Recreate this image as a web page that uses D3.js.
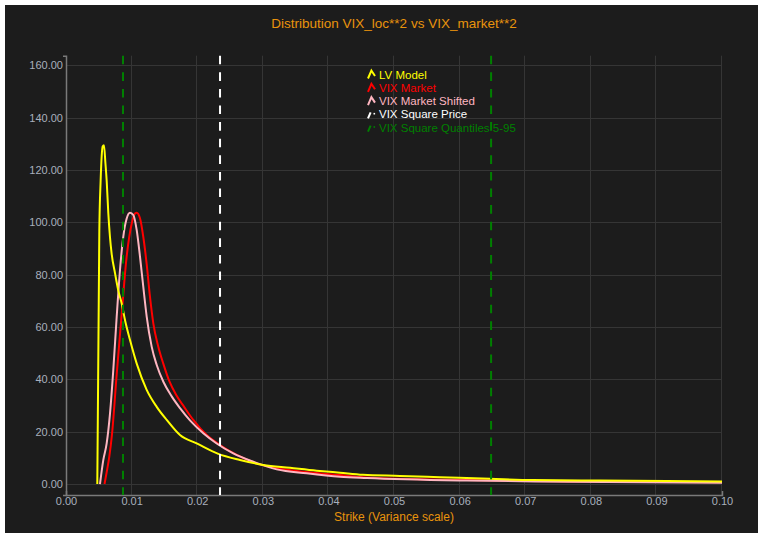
<!DOCTYPE html>
<html>
<head>
<meta charset="utf-8">
<script src="https://cdn.jsdelivr.net/npm/d3@7"></script>
<style>
  html, body { margin: 0; padding: 0; background: #ffffff; }
  svg { display: block; }
</style>
</head>
<body>
<div id="chart"></div>
<script>
// Density of the squared VIX under the local-vol model vs. the market-implied one
const lvModel = [
  [0.00477, 0], [0.00508, 97], [0.00528, 116], [0.00559, 129], [0.00579, 129.5],
  [0.00601, 122.6], [0.0062, 116], [0.00645, 103.5], [0.0067, 94.5], [0.00696, 88],
  [0.00747, 80.6], [0.00797, 74], [0.00849, 69], [0.00899, 62.7], [0.00976, 55],
  [0.01078, 46], [0.0123, 36], [0.01383, 29.5], [0.01535, 24.5], [0.01738, 18.7],
  [0.01992, 15.5], [0.02322, 11.5], [0.02652, 9.2], [0.03008, 7.3], [0.03415, 6.2],
  [0.03822, 5.1], [0.04177, 4.3], [0.04527, 3.5], [0.05091, 3.1], [0.05701, 2.6],
  [0.06463, 2.0], [0.07119, 1.5], [0.0814, 1.3], [0.09162, 1.15], [0.1, 1.0]
];
const vixMarket = [
  [0.00587, 0], [0.0062, 4.5], [0.0066, 10.5], [0.00701, 19], [0.00773, 42],
  [0.00849, 65], [0.00925, 87], [0.01002, 99.6], [0.01052, 103.4], [0.01078, 103.7],
  [0.01128, 101.6], [0.01178, 94.5], [0.0123, 84], [0.0128, 71.6], [0.01331, 61.4],
  [0.01407, 52.5], [0.01483, 46], [0.0158, 39], [0.0168, 34], [0.01800, 29.5],
  [0.0194, 24.5], [0.02145, 18.7], [0.02348, 14.9], [0.02602, 11.1], [0.02907, 7.9],
  [0.03212, 6.0], [0.03613, 4.7], [0.04177, 3.4], [0.04584, 2.5], [0.06108, 1.5],
  [0.07633, 1.0], [0.1, 0.65]
];
const vixMarketShifted = [
  [0.00518, 0], [0.00569, 9.2], [0.0062, 15.5], [0.00671, 27], [0.00721, 43.6],
  [0.00773, 64], [0.00823, 81.8], [0.00873, 94.5], [0.00925, 101.5], [0.00976, 103.7],
  [0.01026, 102.8], [0.01078, 97], [0.01128, 86.9], [0.01178, 75.4], [0.0123, 64],
  [0.01306, 52.5], [0.01383, 45.5], [0.01486, 39], [0.01611, 33.5], [0.01738, 29],
  [0.0189, 24.3], [0.02093, 19.4], [0.02297, 15.5], [0.0255, 11.7], [0.02855, 8.5],
  [0.03212, 5.6], [0.03669, 4.1], [0.04177, 2.8], [0.04584, 2.3], [0.06108, 1.3],
  [0.07633, 0.9], [0.1, 0.5]
];
const vixSquarePrice = [0.02348];
const vixSquareQuantiles = [0.00869, 0.0648];

const xTicks = [0, 0.01, 0.02, 0.03, 0.04, 0.05, 0.06, 0.07, 0.08, 0.09, 0.10];
const yTicks = [0, 20, 40, 60, 80, 100, 120, 140, 160];

const legendItems = [
  { name: "LV Model", color: "#ffff00", dashed: false },
  { name: "VIX Market", color: "#ff0000", dashed: false },
  { name: "VIX Market Shifted", color: "#ffb6c1", dashed: false },
  { name: "VIX Square Price", color: "#ffffff", dashed: true },
  { name: "VIX Square Quantiles 5-95", color: "#008000", dashed: true }
];

const W = 758, H = 533;
const plotL = 66, plotR = 722, plotT = 55.7, plotB = 495;

const svg = d3.select("#chart").append("svg")
  .attr("width", W).attr("height", H)
  .style("font-family", "'Liberation Sans', Arial, sans-serif");

svg.append("rect").attr("x", 5).attr("y", 5)
  .attr("width", W - 5).attr("height", H - 5).attr("fill", "#1c1c1c");

const x = d3.scaleLinear().domain([0, 0.1]).range([plotL, plotR]);
const y = d3.scaleLinear().domain([-4.2, 163.7]).range([plotB, plotT]);

// grid
const grid = svg.append("g").attr("stroke", "#353535").attr("stroke-width", 1);
grid.selectAll("line.gx").data(xTicks.slice(1)).join("line")
  .attr("x1", d => Math.round(x(d)) - 0.5).attr("x2", d => Math.round(x(d)) - 0.5)
  .attr("y1", plotT).attr("y2", plotB);
grid.selectAll("line.gy").data(yTicks).join("line")
  .attr("x1", plotL).attr("x2", plotR)
  .attr("y1", d => Math.round(y(d)) + 0.5).attr("y2", d => Math.round(y(d)) + 0.5);

// axes
const fmt = d3.format(".2f");
const xAxis = svg.append("g").attr("transform", `translate(0,${plotB})`)
  .call(d3.axisBottom(x).tickValues(xTicks).tickFormat(fmt).tickSizeInner(0).tickSizeOuter(-4).tickPadding(2));
const yAxis = svg.append("g").attr("transform", `translate(${plotL},0)`)
  .call(d3.axisLeft(y).tickValues(yTicks).tickFormat(fmt).tickSizeInner(0).tickSizeOuter(3).tickPadding(3));
[xAxis, yAxis].forEach(a => {
  a.select(".domain").attr("stroke", "#7a7a7a").attr("stroke-width", 1.5);
  a.selectAll("text").attr("fill", "#a9b0bd").attr("font-size", 11)
    .attr("font-family", "'Liberation Sans', Arial, sans-serif");
});

// curves
const line = d3.line().x(d => x(d[0])).y(d => y(d[1])).curve(d3.curveMonotoneX);
[[vixMarket, "#ff0000"], [vixMarketShifted, "#ffb6c1"], [lvModel, "#ffff00"]].forEach(([data, c]) => {
  svg.append("path").datum(data).attr("d", line)
    .attr("fill", "none").attr("stroke", c).attr("stroke-width", 2)
    .attr("stroke-linejoin", "round");
});

// legend
const legend = svg.append("g").attr("transform", "translate(368,74.5)");
legendItems.forEach((it, i) => {
  const g = legend.append("g").attr("transform", `translate(0,${i * 13.3})`);
  if (!it.dashed) {
    g.append("path").attr("d", "M0,4 L3.4,-4 L7,1.5")
      .attr("fill", "none").attr("stroke", it.color).attr("stroke-width", 2);
  } else {
    g.append("path").attr("d", "M0,4 L2.6,-2")
      .attr("fill", "none").attr("stroke", it.color).attr("stroke-width", 2);
    g.append("rect").attr("x", 5.5).attr("y", -1.5).attr("width", 1.6).attr("height", 1.6)
      .attr("fill", it.color);
  }
  g.append("text").attr("x", 11).attr("y", 0).attr("dy", "0.35em")
    .attr("fill", it.color).attr("font-size", 11.5).text(it.name);
});

// vertical reference lines
const vline = (v, c) => svg.append("line")
  .attr("x1", x(v)).attr("x2", x(v)).attr("y1", plotT).attr("y2", plotB)
  .attr("stroke", c).attr("stroke-width", 2).attr("stroke-dasharray", "8.6,8");
vixSquareQuantiles.forEach(v => vline(v, "#008000"));
vixSquarePrice.forEach(v => vline(v, "#ffffff"));

// titles
svg.append("text").attr("x", (plotL + plotR) / 2).attr("y", 23).attr("dy", "0.35em")
  .attr("text-anchor", "middle").attr("fill", "#e8930c").attr("font-size", 13.5)
  .text("Distribution VIX_loc**2 vs VIX_market**2");
svg.append("text").attr("x", (plotL + plotR) / 2).attr("y", 517).attr("dy", "0.35em")
  .attr("text-anchor", "middle").attr("fill", "#e8930c").attr("font-size", 12)
  .text("Strike (Variance scale)");
</script>
</body>
</html>
